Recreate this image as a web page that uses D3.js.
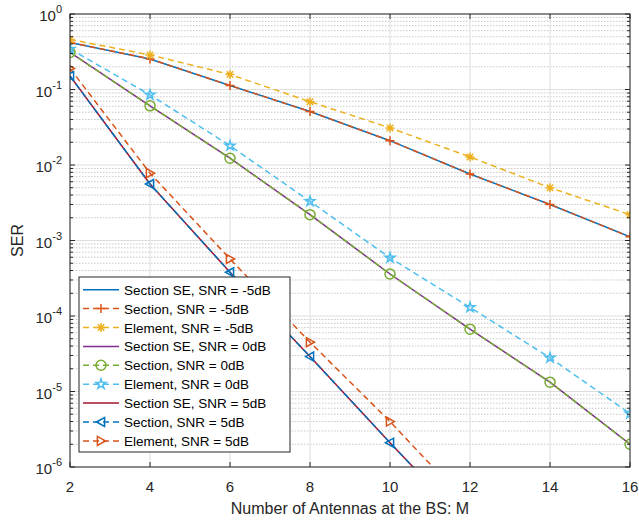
<!DOCTYPE html>
<html><head><meta charset="utf-8">
<script src="https://cdn.jsdelivr.net/npm/d3@7"></script>
<style>body{margin:0;background:#fff}svg{font-family:"Liberation Sans",Arial,sans-serif}</style>
</head><body><svg id="c" width="639" height="522"></svg>
<script>
const M = [2,4,6,8,10,12,14,16];
const xTicks = [2,4,6,8,10,12,14,16];
const yTickExps = [0,-1,-2,-3,-4,-5,-6];
const secSEm5  = [0.42,0.254,0.113,0.051,0.021,0.0076,0.0030,0.00112];
const secM5    = [0.42,0.254,0.113,0.051,0.021,0.0076,0.0030,0.00112];
const eleM5    = [0.46,0.287,0.158,0.069,0.031,0.0128,0.0050,0.0022];
const secSE0   = [0.31,0.0607,0.0123,0.0022,3.6e-4,6.7e-5,1.33e-5,2.0e-6];
const sec0     = [0.31,0.0607,0.0123,0.0022,3.6e-4,6.7e-5,1.33e-5,2.0e-6];
const ele0     = [0.344,0.085,0.018,0.0033,5.9e-4,1.3e-4,2.8e-5,5.1e-6];
const secSE5   = [0.151,0.0056,3.8e-4,2.9e-5,2.1e-6,1.6e-7,1.2e-8,1e-9];
const sec5     = [0.151,0.0056,3.8e-4,2.9e-5,2.1e-6,1.6e-7,1.2e-8,1e-9];
const ele5     = [0.19,0.0078,5.7e-4,4.5e-5,4.0e-6,3.0e-7,2.2e-8,1.6e-9];
const labels = ["Section SE, SNR = -5dB","Section, SNR = -5dB","Element, SNR = -5dB",
  "Section SE, SNR = 0dB","Section, SNR = 0dB","Element, SNR = 0dB",
  "Section SE, SNR = 5dB","Section, SNR = 5dB","Element, SNR = 5dB"];

const series = [
 {v:secSEm5,c:"#0072BD",dash:null,mk:null},
 {v:secM5,c:"#D95319",dash:"6,4",mk:"plus"},
 {v:eleM5,c:"#EDB120",dash:"6,4",mk:"star"},
 {v:secSE0,c:"#7E2F8E",dash:null,mk:null},
 {v:sec0,c:"#77AC30",dash:"6,4",mk:"circle"},
 {v:ele0,c:"#4DBEEE",dash:"6,4",mk:"pent"},
 {v:secSE5,c:"#A2142F",dash:null,mk:null},
 {v:sec5,c:"#0072BD",dash:"6,4",mk:"tril"},
 {v:ele5,c:"#D95319",dash:"6,4",mk:"trir"},
];

const L=70,R=630,T=14,B=467;
const svg=d3.select("#c");
const x=d3.scaleLinear().domain([2,16]).range([L,R]);
const y=d3.scaleLog().domain([1e-6,1]).range([B,T]);
const ax="#262626";

// grid
const g=svg.append("g");
const minor=[];
for(let e=-6;e<0;e++) for(let k=2;k<=9;k++) minor.push(k*Math.pow(10,e));
g.selectAll(".mg").data(minor).enter().append("line")
 .attr("x1",L).attr("x2",R).attr("y1",d=>y(d)).attr("y2",d=>y(d))
 .attr("stroke","#c8c8c8").attr("stroke-width",1).attr("stroke-dasharray","1.5,1.5");
g.selectAll(".gx").data(xTicks).enter().append("line")
 .attr("x1",d=>x(d)).attr("x2",d=>x(d)).attr("y1",T).attr("y2",B)
 .attr("stroke","#dedede").attr("stroke-width",1);
g.selectAll(".gy").data(yTickExps).enter().append("line")
 .attr("x1",L).attr("x2",R).attr("y1",d=>y(Math.pow(10,d))).attr("y2",d=>y(Math.pow(10,d)))
 .attr("stroke","#dedede").attr("stroke-width",1);

// clip
svg.append("clipPath").attr("id","cp").append("rect").attr("x",L).attr("y",T).attr("width",R-L).attr("height",B-T);
const plot=svg.append("g").attr("clip-path","url(#cp)");
const line=d3.line().x((d,i)=>x(M[i])).y(d=>y(d));

function marker(sel,type,c){
  const s=4.5;
  if(type==="plus"){
    sel.append("path").attr("d",`M${-s},0H${s}M0,${-s}V${s}`).attr("stroke",c).attr("stroke-width",1.5).attr("fill","none");
  } else if(type==="star"){
    sel.append("path").attr("d",`M${-s},0H${s}M0,${-s}V${s}M${-s*0.72},${-s*0.72}L${s*0.72},${s*0.72}M${-s*0.72},${s*0.72}L${s*0.72},${-s*0.72}`).attr("stroke",c).attr("stroke-width",1.5).attr("fill","none");
  } else if(type==="circle"){
    sel.append("circle").attr("r",s+0.5).attr("stroke",c).attr("stroke-width",1.5).attr("fill","none");
  } else if(type==="pent"){
    sel.append("path").attr("d",d3.symbol().type(d3.symbolStar).size(30)()).attr("stroke",c).attr("stroke-width",1.5).attr("fill","none");
  } else if(type==="tril"){
    sel.append("path").attr("d",`M${-s},0L${s*0.8},${-s}L${s*0.8},${s}Z`).attr("stroke",c).attr("stroke-width",1.5).attr("fill","none");
  } else if(type==="trir"){
    sel.append("path").attr("d",`M${s},0L${-s*0.8},${-s}L${-s*0.8},${s}Z`).attr("stroke",c).attr("stroke-width",1.5).attr("fill","none");
  }
}

series.forEach(s=>{
  plot.append("path").datum(s.v).attr("d",line).attr("fill","none")
   .attr("stroke",s.c).attr("stroke-width",1.5).attr("stroke-dasharray",s.dash);
});
series.forEach(s=>{
  if(!s.mk) return;
  s.v.forEach((v,i)=>{
    if(v<1e-6) return;
    const m=plot.append("g").attr("transform",`translate(${x(M[i])},${y(v)})`);
    marker(m,s.mk,s.c);
  });
});

// axes box
svg.append("rect").attr("x",L).attr("y",T).attr("width",R-L).attr("height",B-T).attr("fill","none").attr("stroke",ax).attr("stroke-width",1);
const xt=svg.append("g");
xTicks.forEach(t=>{
  xt.append("line").attr("x1",x(t)).attr("x2",x(t)).attr("y1",B).attr("y2",B-5).attr("stroke",ax);
  xt.append("line").attr("x1",x(t)).attr("x2",x(t)).attr("y1",T).attr("y2",T+5).attr("stroke",ax);
  xt.append("text").attr("x",x(t)).attr("y",B+25).attr("text-anchor","middle").attr("font-size",15).attr("fill",ax).text(t);
});
yTickExps.forEach(e=>{
  const yy=y(Math.pow(10,e));
  xt.append("line").attr("x1",L).attr("x2",L+5).attr("y1",yy).attr("y2",yy).attr("stroke",ax);
  xt.append("line").attr("x1",R).attr("x2",R-5).attr("y1",yy).attr("y2",yy).attr("stroke",ax);
  const tx=xt.append("text").attr("x",L-8).attr("y",yy+7).attr("text-anchor","end").attr("font-size",15).attr("fill",ax);
  tx.append("tspan").text("10");
  tx.append("tspan").attr("dy",-8).attr("font-size",11).text(e);
});
minor.forEach(v=>{
  const yy=y(v);
  xt.append("line").attr("x1",L).attr("x2",L+3).attr("y1",yy).attr("y2",yy).attr("stroke",ax);
  xt.append("line").attr("x1",R).attr("x2",R-3).attr("y1",yy).attr("y2",yy).attr("stroke",ax);
});
svg.append("text").attr("x",(L+R)/2).attr("y",514).attr("text-anchor","middle").attr("font-size",16).attr("fill",ax).text("Number of Antennas at the BS: M");
svg.append("text").attr("transform",`translate(23,${(T+B)/2}) rotate(-90)`).attr("text-anchor","middle").attr("font-size",16).attr("fill",ax).text("SER");

// legend
const lg=svg.append("g");
const lx=79,ly=277,lw=211,lh=175,rh=18.9;
lg.append("rect").attr("x",lx).attr("y",ly).attr("width",lw).attr("height",lh).attr("fill","#fff").attr("stroke",ax).attr("stroke-width",1);
series.forEach((s,i)=>{
  const cy=ly+12.7+i*rh;
  lg.append("line").attr("x1",lx+4).attr("x2",lx+40).attr("y1",cy).attr("y2",cy).attr("stroke",s.c).attr("stroke-width",1.5).attr("stroke-dasharray",s.dash);
  if(s.mk){ const m=lg.append("g").attr("transform",`translate(${lx+22},${cy})`); marker(m,s.mk,s.c); }
  lg.append("text").attr("x",lx+45).attr("y",cy+5).attr("font-size",13.5).attr("fill","#000").text(labels[i]);
});
</script></body></html>
